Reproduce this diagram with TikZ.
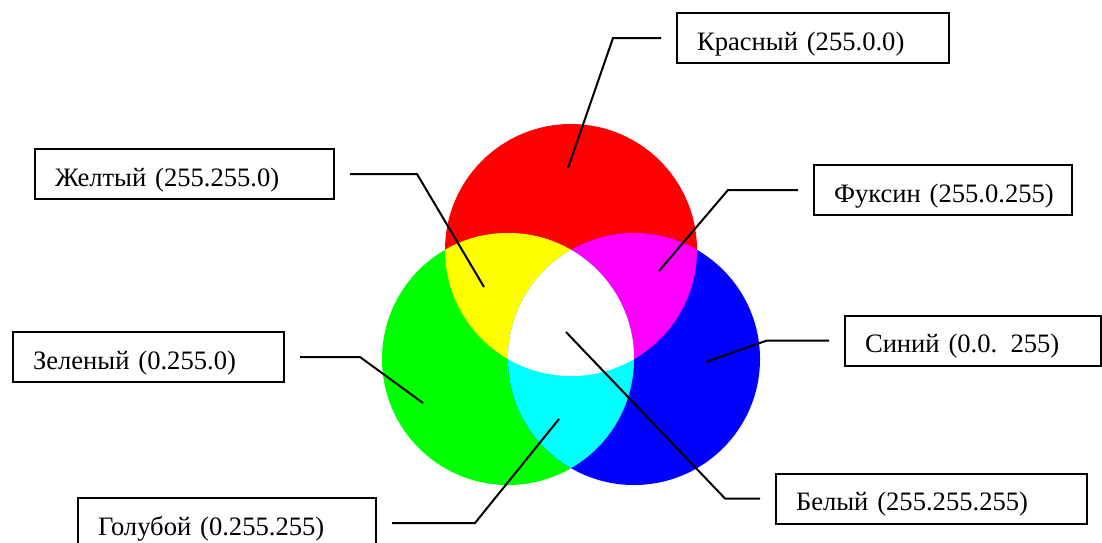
\documentclass[tikz,border=0pt]{standalone}
\usepackage{fontspec}
\setmainfont{Liberation Serif}
\definecolor{cred}{RGB}{255,0,0}
\definecolor{cgreen}{RGB}{0,255,0}
\definecolor{cblue}{RGB}{0,0,255}
\definecolor{cyellow}{RGB}{255,255,0}
\definecolor{cmagenta}{RGB}{255,0,255}
\definecolor{ccyan}{RGB}{0,255,255}
\begin{document}
\begin{tikzpicture}[x=1pt,y=-1pt,
  lbl/.style={draw, line width=2pt, anchor=west, inner xsep=20pt, inner ysep=0pt,
    minimum height=50pt, align=left, text height=30pt, text depth=6pt,
    font=\fontsize{26.6}{30}\selectfont},
  lead/.style={draw, line width=2pt}]
\path[use as bounding box, clip] (0,0) rectangle (1102,542);
\coordinate (cR) at (571,250);
\coordinate (cG) at (508,359);
\coordinate (cB) at (634,359);
% base circles
\fill[cred] (cR) circle[radius=126];
\fill[cgreen] (cG) circle[radius=126];
\fill[cblue] (cB) circle[radius=126];
% overlaps
\begin{scope}
  \clip (cR) circle[radius=126];
  \fill[cyellow] (cG) circle[radius=126];
  \fill[cmagenta] (cB) circle[radius=126];
\end{scope}
\begin{scope}
  \clip (cG) circle[radius=126];
  \fill[ccyan] (cB) circle[radius=126];
  \clip (cR) circle[radius=126];
  \fill[white] (cB) circle[radius=126];
\end{scope}
% labels
\node[lbl, text width=232pt] (kr) at (676,38) {\mbox{Красный (255.0.0)}};
\node[lbl, text width=259pt] (zh) at (34,174) {\mbox{Желтый (255.255.0)}};
\node[lbl, text width=218pt] (fu) at (813,190) {\mbox{Фуксин (255.0.255)}};
\node[lbl, text width=216pt] (si) at (844,340.5) {\mbox{Синий (0.0. 255)}};
\node[lbl, text width=231pt] (ze) at (12,357) {\mbox{Зеленый (0.255.0)}};
\node[lbl, text width=258pt] (go) at (77,523) {\mbox{Голубой (0.255.255)}};
\node[lbl, text width=271pt] (be) at (775,498.5) {\mbox{Белый (255.255.255)}};
% leader corners and tips
\coordinate (kr1) at (613,38);    \coordinate (kr2) at (568,168);
\coordinate (zh1) at (417,174);   \coordinate (zh2) at (484,287);
\coordinate (fu1) at (728,190);   \coordinate (fu2) at (659,271);
\coordinate (si1) at (767,340.5); \coordinate (si2) at (706,362);
\coordinate (ze1) at (360,357);   \coordinate (ze2) at (423,403);
\coordinate (go1) at (475,523);   \coordinate (go2) at (559,419);
\coordinate (be1) at (725,498.5); \coordinate (be2) at (566,332);
\draw[lead] ([xshift=-15pt]kr.west) -- (kr1) -- (kr2);
\draw[lead] ([xshift=15pt]zh.east) -- (zh1) -- (zh2);
\draw[lead] ([xshift=-15pt]fu.west) -- (fu1) -- (fu2);
\draw[lead] ([xshift=-15pt]si.west) -- (si1) -- (si2);
\draw[lead] ([xshift=15pt]ze.east) -- (ze1) -- (ze2);
\draw[lead] ([xshift=15pt]go.east) -- (go1) -- (go2);
\draw[lead] ([xshift=-15pt]be.west) -- (be1) -- (be2);
\end{tikzpicture}
\end{document}
